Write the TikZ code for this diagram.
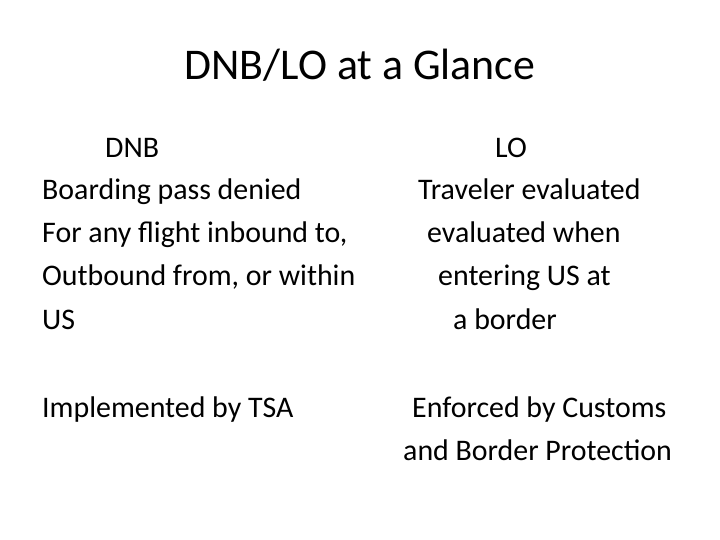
\documentclass[tikz,border=0pt]{standalone}
\usepackage{fontspec}
\setmainfont{Carlito}
\tikzset{
	line/.style={anchor=base west, inner sep=0pt, font=\fontsize{30}{34}\selectfont},
	heading/.style={anchor=base, inner sep=0pt, font=\fontsize{44}{48}\selectfont},
}
\begin{document}
\begin{tikzpicture}[x=1bp, y=-1bp]
	\useasboundingbox (0,0) rectangle (720,540);
	\node (title) [heading] at (360,80) {DNB/LO at a Glance};
	% left column
	\node (dnb) [line] at (105,158) {DNB};
	\node (l1) [line] at (42,200) {Boarding pass denied};
	\node (l2) [line] at (42,243) {For any flight inbound to,};
	\node (l3) [line] at (42,286) {Outbound from, or within};
	\node (l4) [line] at (42,329) {US};
	\node (tsa) [line] at (42,417) {Implemented by TSA};
	% right column
	\node (lo) [line] at (495,158) {LO};
	\node (r1) [line] at (418,200) {Traveler evaluated};
	\node (r2) [line] at (427,243) {evaluated when};
	\node (r3) [line] at (438,286) {entering US at};
	\node (r4) [line] at (453,329) {a border};
	\node (cbp1) [line] at (412,417) {Enforced by Customs};
	\node (cbp2) [line] at (403,460) {and Border Protection};
\end{tikzpicture}
\end{document}
